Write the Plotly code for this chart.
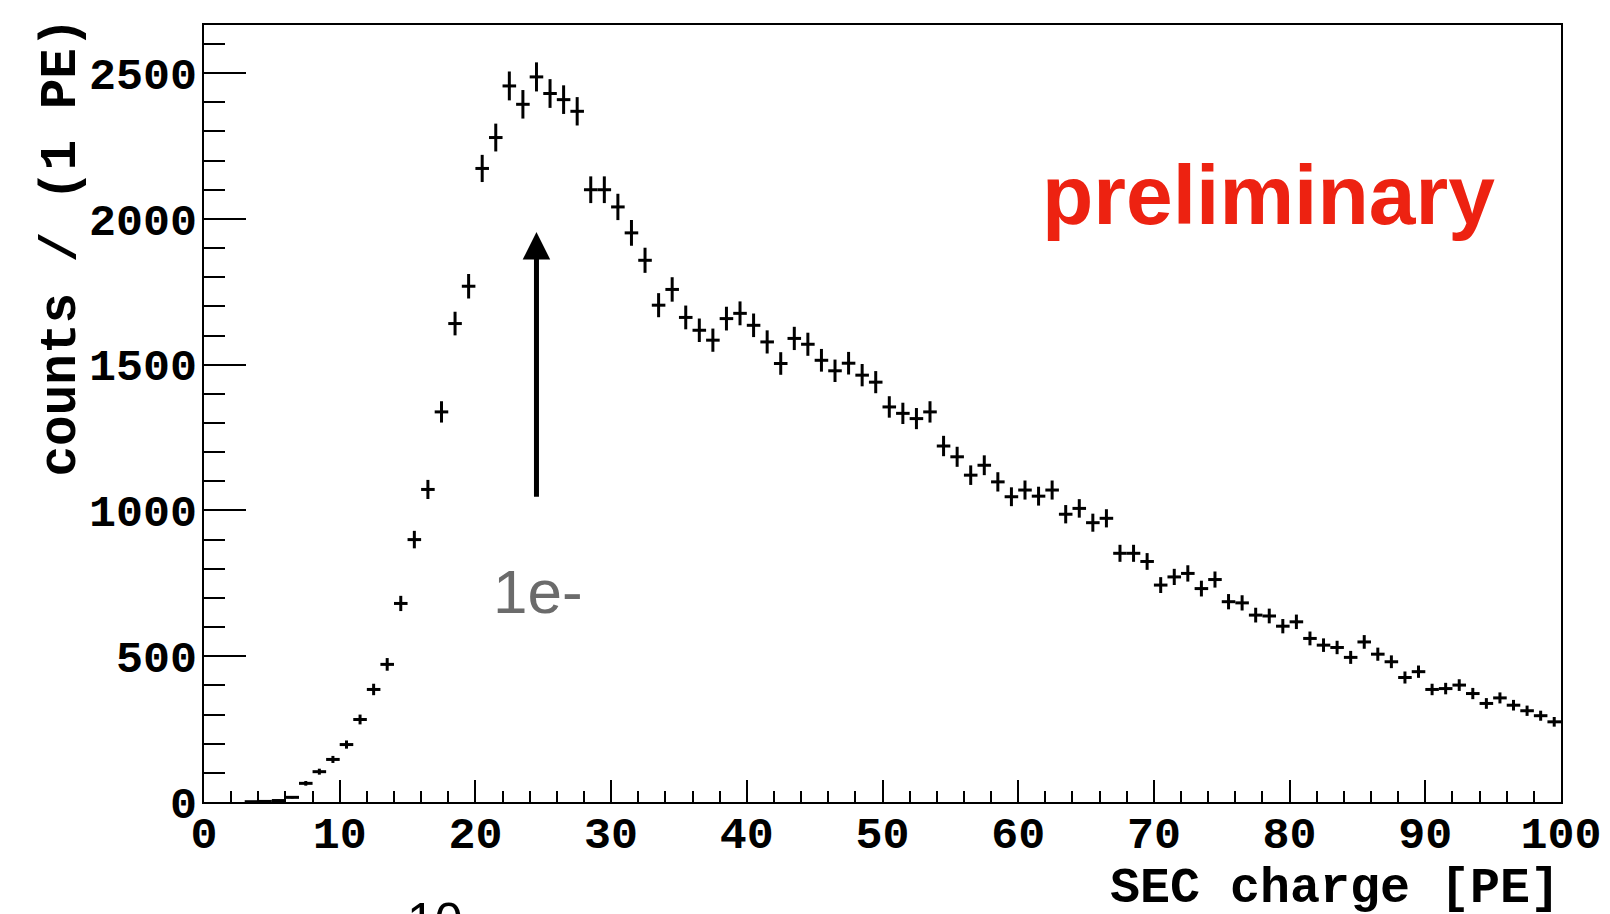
import math
import plotly.graph_objects as go

# ---- data (histogram: counts per 1 PE bin, 0..100 PE) ----
bin_edges = list(range(0, 101))
counts = [
    None, None, None, 1, 2, 5, 16, 64, 104, 146,
    197, 283, 386, 472, 681, 900, 1072, 1338, 1641, 1769,
    2173, 2279, 2456, 2393, 2487, 2430, 2409, 2369, 2100, 2100,
    2041, 1952, 1858, 1704, 1758, 1662, 1618, 1584, 1658, 1676,
    1635, 1578, 1504, 1590, 1570, 1515, 1479, 1505, 1464, 1440,
    1355, 1333, 1315, 1338, 1221, 1184, 1121, 1155, 1098, 1047,
    1070, 1049, 1070, 987, 1007, 958, 973, 853, 853, 825,
    744, 772, 784, 732, 763, 687, 683, 641, 638, 603,
    618, 561, 538, 530, 496, 549, 507, 481, 427, 447,
    386, 389, 401, 372, 338, 357, 332, 313, 296, 275,
]
x_ticks = [0, 10, 20, 30, 40, 50, 60, 70, 80, 90, 100]
y_ticks = [0, 500, 1000, 1500, 2000, 2500]
arrow_x = 24.5
arrow_from_y = 1042
arrow_to_y = 1955

centers = [(bin_edges[i] + bin_edges[i + 1]) / 2 for i in range(len(counts))]
half_w = [(bin_edges[i + 1] - bin_edges[i]) / 2 for i in range(len(counts))]
errs = [math.sqrt(c) if c is not None else None for c in counts]

fig = go.Figure()
fig.add_trace(go.Scatter(
    x=centers, y=counts, mode="markers",
    marker=dict(size=0.1, color="black"),
    error_x=dict(type="data", array=half_w, symmetric=True, width=0, thickness=3, color="black"),
    error_y=dict(type="data", array=errs, symmetric=True, width=0, thickness=3, color="black"),
    showlegend=False, hoverinfo="skip",
))

tickfont = dict(family="Liberation Mono", size=45, color="black", weight="bold")

fig.update_layout(
    width=1610, height=914,
    margin=dict(l=204, r=49, t=25, b=112, autoexpand=False),
    paper_bgcolor="white", plot_bgcolor="white",
    xaxis=dict(
        range=[0, 100], tickmode="array", tickvals=x_ticks,
        ticks="inside", ticklen=22, tickwidth=2, tickcolor="black",
        minor=dict(dtick=2, ticks="inside", ticklen=11, tickwidth=2, tickcolor="black"),
        showgrid=False, zeroline=False,
        showline=True, linecolor="black", linewidth=2, mirror=True,
        tickfont=tickfont, ticklabelstandoff=-10,
    ),
    yaxis=dict(
        range=[0, 2665], tickmode="array", tickvals=y_ticks,
        ticks="inside", ticklen=42, tickwidth=2, tickcolor="black",
        minor=dict(dtick=100, ticks="inside", ticklen=21, tickwidth=2, tickcolor="black"),
        showgrid=False, zeroline=False,
        showline=True, linecolor="black", linewidth=2, mirror=True,
        tickfont=tickfont, ticklabelstandoff=-4,
    ),
)

annots = [
    dict(text="SEC charge [PE]", xref="paper", yref="paper", x=0.8335, y=-0.111,
         xanchor="center", yanchor="middle", showarrow=False,
         font=dict(family="Liberation Mono", size=50, color="black", weight="bold")),
    dict(text="counts / (1 PE)", xref="paper", yref="paper", x=-0.1052, y=0.7139,
         xanchor="center", yanchor="middle", showarrow=False, textangle=-90,
         font=dict(family="Liberation Mono", size=51, color="black", weight="bold")),
    dict(text="preliminary", xref="paper", yref="paper", x=0.7842, y=0.7808,
         xanchor="center", yanchor="middle", showarrow=False,
         font=dict(family="Liberation Sans", size=84, color="#ED2211", weight="bold")),
    dict(text="1e-", xref="paper", yref="paper", x=0.246, y=0.2713,
         xanchor="center", yanchor="middle", showarrow=False,
         font=dict(family="Liberation Sans", size=62, color="#6b6b6b")),
    dict(text="10", xref="paper", yref="paper", x=0.1700, y=-0.115,
         xanchor="center", yanchor="top", showarrow=False,
         font=dict(family="Liberation Sans", size=50, color="black")),
    dict(text="", x=arrow_x, y=arrow_to_y, ax=arrow_x, ay=arrow_from_y,
         xref="x", yref="y", axref="x", ayref="y",
         showarrow=True, arrowhead=2, arrowsize=1.1, arrowwidth=5, arrowcolor="black"),
]
fig.update_layout(annotations=annots)

fig.write_html("out.html")
